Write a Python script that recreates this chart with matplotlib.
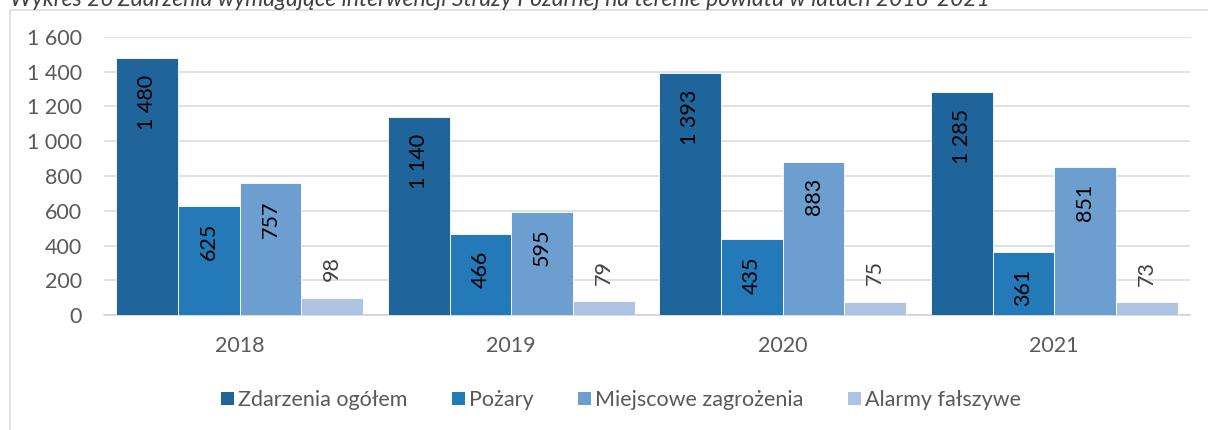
import matplotlib
matplotlib.use("Agg")
import matplotlib.pyplot as plt
import numpy as np
from matplotlib.patches import Patch, Rectangle

plt.rcParams['font.family'] = ['Lato', 'DejaVu Sans']

years = ['2018', '2019', '2020', '2021']
series_names = ['Zdarzenia ogółem', 'Pożary', 'Miejscowe zagrożenia', 'Alarmy fałszywe']
zdarzenia = [1480, 1140, 1393, 1285]
pozary = [625, 466, 435, 361]
miejscowe = [757, 595, 883, 851]
alarmy = [98, 79, 75, 73]
colors = ['#1F659B', '#2479B8', '#6C9ECF', '#AEC3E1']
yticks = [0, 200, 400, 600, 800, 1000, 1200, 1400, 1600]
title = 'Wykres 26 Zdarzenia wymagające interwencji Straży Pożarnej na terenie powiatu w latach 2018-2021'

W, H = 1208, 430
fig = plt.figure(figsize=(W / 100, H / 100), dpi=100)
ax = fig.add_axes([104 / W, 1 - 315 / H, (1190 - 104) / W, (315 - 37) / H])

series = [zdarzenia, pozary, miejscowe, alarmy]
x = np.arange(len(years))
bw = 0.227
fmt = lambda v: f"{v:,}".replace(",", " ")
fs = 15.5
for i, (vals, c) in enumerate(zip(series, colors)):
    pos = x + (i - 1.5) * bw
    ax.bar(pos, vals, width=bw, color=c, edgecolor='white', linewidth=0.6, zorder=3)
    for p, v in zip(pos, vals):
        if v >= 200:
            ax.annotate(fmt(v), (p, v), xytext=(0, -12), textcoords='offset points',
                        rotation=90, ha='center', va='top', fontsize=fs, color='black', zorder=4)
        else:
            ax.annotate(fmt(v), (p, v), xytext=(0, 12), textcoords='offset points',
                        rotation=90, ha='center', va='bottom', fontsize=fs, color='#404040', zorder=4)

ax.set_xlim(-0.5, len(years) - 0.5)
ax.set_ylim(0, 1600)
ax.set_yticks(yticks)
ax.set_yticklabels([fmt(v) for v in yticks])
ax.set_xticks(x)
ax.set_xticklabels(years)
ax.tick_params(axis='both', length=0, labelsize=fs, colors='#595959')
ax.tick_params(axis='y', pad=16)
ax.tick_params(axis='x', pad=15)
ax.grid(axis='y', color='#D9D9D9', linewidth=1.1, zorder=0)
ax.set_axisbelow(True)
for s in ['top', 'right', 'left']:
    ax.spines[s].set_visible(False)
ax.spines['bottom'].set_color('#D0D0D0')
ax.spines['bottom'].set_linewidth(1.1)

handles = [Patch(facecolor=c, edgecolor='none') for c in colors]
leg = fig.legend(handles, series_names, loc='center', bbox_to_anchor=(621 / W, 1 - 400 / H),
                 ncol=4, frameon=False, fontsize=fs, handlelength=0.6, handleheight=0.6,
                 handletextpad=0.2, columnspacing=2.05, borderaxespad=0)
for t in leg.get_texts():
    t.set_color('#595959')

fig.patches.append(Rectangle((10 / W, -0.2), 1.5, 1.2 - 10 / H, transform=fig.transFigure,
                             fill=False, edgecolor='#D9D9D9', linewidth=1.1))
fig.text(10 / W, 1 - 5.5 / H, title, style='italic', fontsize=16.5, color='#404040',
         ha='left', va='baseline')

fig.savefig('out.png', dpi=100)
